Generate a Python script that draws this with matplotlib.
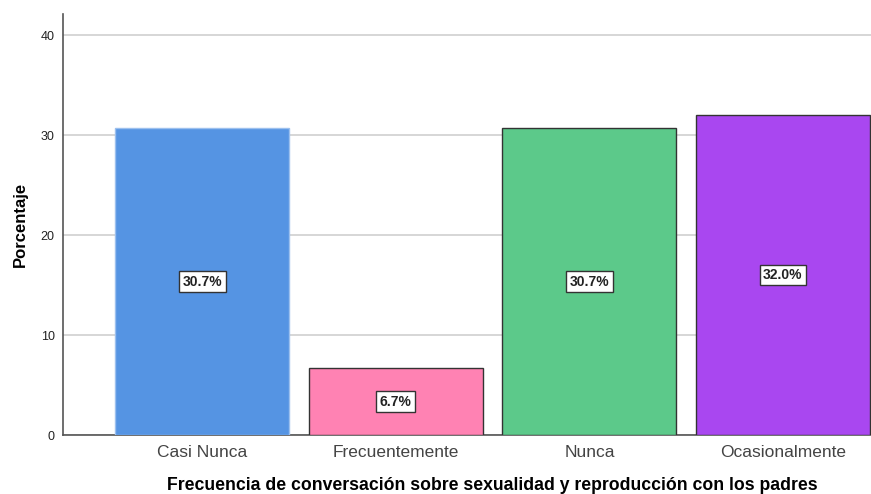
import matplotlib
matplotlib.use("Agg")
import matplotlib.pyplot as plt
from matplotlib import font_manager

categories = ["Casi Nunca", "Frecuentemente", "Nunca", "Ocasionalmente"]
values = [30.7, 6.7, 30.7, 32.0]
labels = ["30.7%", "6.7%", "30.7%", "32.0%"]
colors = ["#5594E3", "#FF82B3", "#5CC98A", "#A947F0"]
edges = ["#9CC0EE", "#333333", "#333333", "#333333"]
yticks = [0, 10, 20, 30, 40]

names = {f.name for f in font_manager.fontManager.ttflist}
base = "Liberation Sans" if "Liberation Sans" in names else "DejaVu Sans"
plt.rcParams["font.family"] = [base, "DejaVu Sans"]

fig = plt.figure(figsize=(8.71, 4.94), dpi=100)
ax = fig.add_axes([63/871, 59/494, 1 - 63/871, (435-14)/494])

x = list(range(len(categories)))
ax.bar(x, values, width=0.9, color=colors, edgecolor=edges, linewidth=1.0, zorder=3)
for xi, v, lab in zip(x, values, labels):
    ax.text(xi, v/2, lab, ha="center", va="center", fontsize=10, fontweight="bold",
            color="#222222", zorder=4,
            bbox=dict(boxstyle="square,pad=0.25", fc="white", ec="#333333", lw=1.0))

ax.set_xlim(-0.72, 3.455)
ax.set_ylim(0, 42.1)
ax.set_yticks(yticks)
ax.set_xticks(x)
ax.set_xticklabels(categories, fontsize=12.5, color="#444444")
ax.tick_params(axis="y", length=0, labelsize=9, pad=6, colors="#222222")
ax.tick_params(axis="x", length=0, pad=7)
ax.yaxis.grid(True, color="#D0D0D0", linewidth=1.2, zorder=0)
ax.set_axisbelow(True)
for s in ["top", "right"]:
    ax.spines[s].set_visible(False)
for s in ["left", "bottom"]:
    ax.spines[s].set_color("#555555")
    ax.spines[s].set_linewidth(1.2)

ax.set_ylabel("Porcentaje", fontsize=12, fontweight="bold", labelpad=9)
ax.set_xlabel("Frecuencia de conversación sobre sexualidad y reproducción con los padres",
              fontsize=12.7, fontweight="bold")
ax.xaxis.set_label_coords((492 - 63) / 808, -42 / 421)

fig.savefig("out.png", dpi=100)
